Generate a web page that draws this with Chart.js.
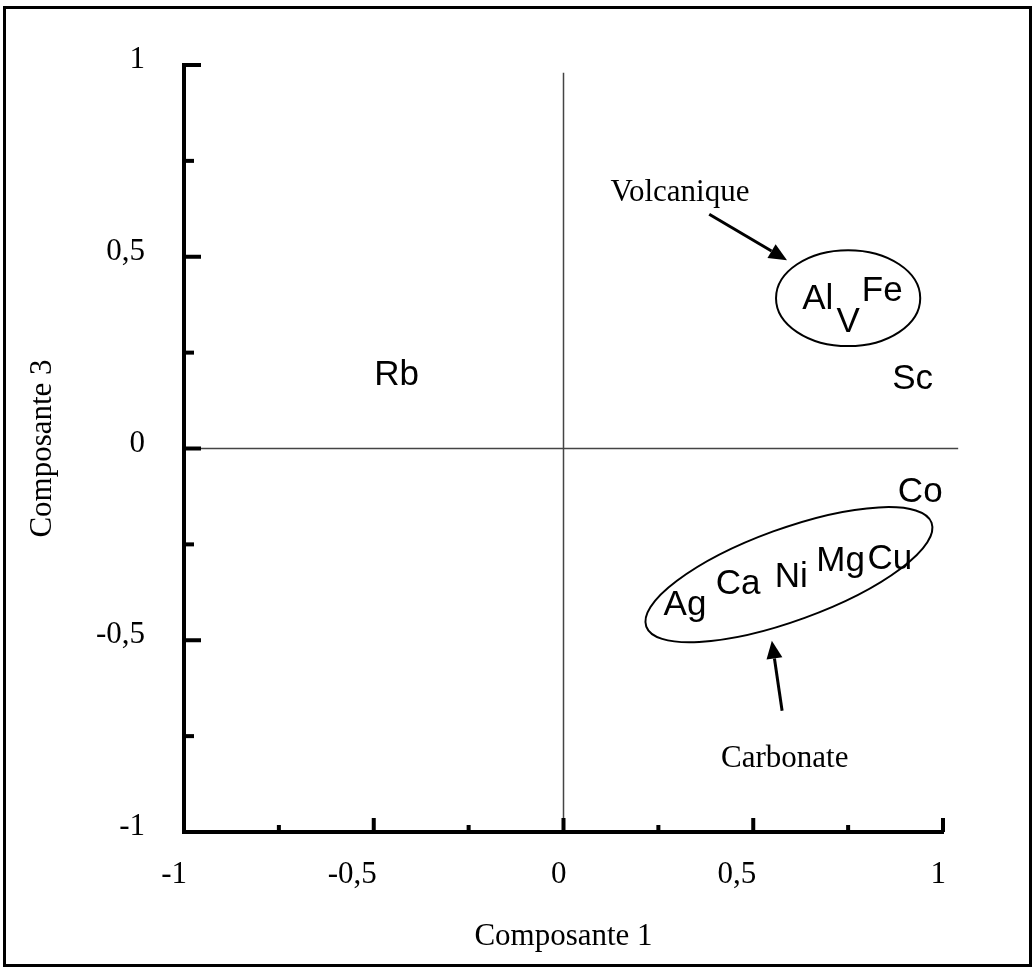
<!DOCTYPE html>
<html>
<head>
<meta charset="utf-8">
<script src="https://cdn.jsdelivr.net/npm/chart.js@4.4.1/dist/chart.umd.min.js"></script>
<style>
  html, body { margin: 0; padding: 0; background: #fff; }
  #wrap { position: relative; width: 1036px; height: 970px; }
  #frame {
    position: absolute; left: 3px; top: 6px; width: 1029px; height: 961px;
    box-sizing: border-box; border: 3px solid #000; pointer-events: none;
  }
</style>
</head>
<body>
<div id="wrap">
  <canvas id="chart"></canvas>
  <div id="frame"></div>
</div>
<script>
// element loadings on components 1 and 3
const elements = ['Rb', 'Sc', 'Al', 'V', 'Fe', 'Co', 'Ag', 'Ca', 'Ni', 'Mg', 'Cu'];
const comp1 = [-0.44, 0.92, 0.67, 0.75, 0.84, 0.94, 0.32, 0.46, 0.60, 0.73, 0.86];
const comp3 = [0.19, 0.18, 0.39, 0.33, 0.41, -0.115, -0.41, -0.355, -0.335, -0.295, -0.29];

// groups circled on the plot (data units)
const groupNames = ['Volcanique', 'Carbonate'];
const groupCx = [0.75, 0.594];
const groupCy = [0.392, -0.329];
const groupRx = [0.19, 0.40];
const groupRy = [0.125, 0.12];
const groupTilt = [0, -20];
const groupLabelX = [0.307, 0.583];
const groupLabelY = [0.666, -0.81];
const arrowFromX = [0.384, 0.576];
const arrowFromY = [0.611, -0.684];
const arrowToX = [0.589, 0.549];
const arrowToY = [0.491, -0.501];

const serif = "'Liberation Serif', 'Times New Roman', serif";
const sans = "'Liberation Sans', Arial, sans-serif";

function fmtTick(value) {
  if (Math.abs(value % 0.5) > 1e-9) return '';
  return String(value).replace('.', ',');
}

function arrow(ctx, x1, y1, x2, y2) {
  const ang = Math.atan2(y2 - y1, x2 - x1);
  const head = 18;
  const bx = x2 - head * Math.cos(ang);
  const by = y2 - head * Math.sin(ang);
  ctx.beginPath();
  ctx.moveTo(x1, y1);
  ctx.lineTo(bx, by);
  ctx.stroke();
  ctx.beginPath();
  ctx.moveTo(x2, y2);
  ctx.lineTo(bx + 8 * Math.sin(ang), by - 8 * Math.cos(ang));
  ctx.lineTo(bx - 8 * Math.sin(ang), by + 8 * Math.cos(ang));
  ctx.closePath();
  ctx.fill();
}

const overlay = {
  id: 'overlay',
  beforeDatasetsDraw(chart) {
    const { ctx, scales: { x, y } } = chart;
    ctx.save();

    // zero lines
    ctx.strokeStyle = '#444';
    ctx.lineWidth = 1.5;
    ctx.beginPath();
    ctx.moveTo(x.getPixelForValue(0), y.getPixelForValue(0.98));
    ctx.lineTo(x.getPixelForValue(0), y.getPixelForValue(-1));
    ctx.moveTo(x.getPixelForValue(-1), y.getPixelForValue(0));
    ctx.lineTo(x.getPixelForValue(1.04), y.getPixelForValue(0));
    ctx.stroke();

    // inward tick marks
    ctx.fillStyle = '#000';
    x.ticks.forEach(t => {
      const px = x.getPixelForValue(t.value);
      const len = fmtTick(t.value) ? 14 : 7;
      ctx.fillRect(px - 2, y.bottom - len, 4, len);
    });
    y.ticks.forEach(t => {
      const py = y.getPixelForValue(t.value);
      const len = fmtTick(t.value) ? 17 : 10;
      ctx.fillRect(x.left, py - 2, len, 4);
    });
    ctx.restore();
  },
  afterDatasetsDraw(chart) {
    const { ctx, scales: { x, y } } = chart;
    const sx = Math.abs(x.getPixelForValue(1) - x.getPixelForValue(0));
    const sy = Math.abs(y.getPixelForValue(1) - y.getPixelForValue(0));
    ctx.save();

    // element labels at their points
    const meta = chart.getDatasetMeta(0);
    ctx.fillStyle = '#000';
    ctx.font = '35px ' + sans;
    ctx.textAlign = 'center';
    ctx.textBaseline = 'middle';
    meta.data.forEach((pt, i) => {
      ctx.fillText(elements[i], pt.x, pt.y);
    });

    // group ellipses, arrows and names
    ctx.strokeStyle = '#000';
    groupNames.forEach((name, i) => {
      ctx.lineWidth = 2;
      ctx.beginPath();
      ctx.ellipse(x.getPixelForValue(groupCx[i]), y.getPixelForValue(groupCy[i]),
        groupRx[i] * sx, groupRy[i] * sy, groupTilt[i] * Math.PI / 180, 0, Math.PI * 2);
      ctx.stroke();

      ctx.lineWidth = 3;
      arrow(ctx, x.getPixelForValue(arrowFromX[i]), y.getPixelForValue(arrowFromY[i]),
        x.getPixelForValue(arrowToX[i]), y.getPixelForValue(arrowToY[i]));

      ctx.font = '31px ' + serif;
      ctx.fillText(name, x.getPixelForValue(groupLabelX[i]), y.getPixelForValue(groupLabelY[i]));
    });
    ctx.restore();
  }
};

new Chart(document.getElementById('chart'), {
  type: 'scatter',
  data: {
    datasets: [{
      data: elements.map((e, i) => ({ x: comp1[i], y: comp3[i] })),
      pointRadius: 0,
      pointHoverRadius: 0
    }]
  },
  options: {
    responsive: true,
    maintainAspectRatio: false,
    animation: false,
    layout: { padding: { top: 65, right: 93, left: 0, bottom: 0 } },
    plugins: {
      legend: { display: false },
      tooltip: { enabled: false }
    },
    scales: {
      x: {
        type: 'linear',
        position: 'bottom',
        min: -1,
        max: 1,
        grid: { display: false },
        border: { display: true, color: '#000', width: 4 },
        ticks: {
          stepSize: 0.25,
          autoSkip: false,
          maxRotation: 0,
          align: 'end',
          labelOffset: 3,
          padding: 16,
          color: '#000',
          font: { family: serif, size: 31 },
          callback: fmtTick
        },
        title: {
          display: true,
          text: 'Composante 1',
          color: '#000',
          font: { family: serif, size: 31 },
          padding: { top: 4, bottom: 15 }
        },
        afterFit: s => { s.height = 138; }
      },
      y: {
        type: 'linear',
        position: 'left',
        min: -1,
        max: 1,
        grid: { display: false },
        border: { display: true, color: '#000', width: 4 },
        ticks: {
          stepSize: 0.25,
          autoSkip: false,
          labelOffset: -5,
          padding: 31,
          color: '#000',
          font: { family: serif, size: 31 },
          callback: fmtTick
        },
        title: {
          display: true,
          text: 'Composante 3',
          color: '#000',
          font: { family: serif, size: 31 },
          padding: { top: 24, bottom: 4 }
        },
        afterFit: s => { s.width = 184; }
      }
    }
  },
  plugins: [overlay]
});
</script>
</body>
</html>
